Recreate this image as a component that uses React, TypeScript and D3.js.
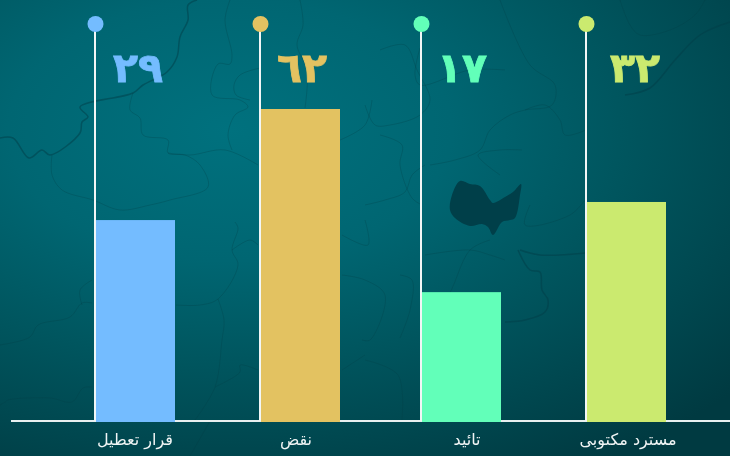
import React from "react";
import * as d3 from "d3";

const W = 730, H = 456;
const categories = ["قرار تعطیل", "نقض", "تائید", "مسترد مکتوبی"];
const valueLabels = ["٢٩", "٦٢", "١٧", "٣٢"];
// bar lengths as drawn in the picture (the picture's bars are not proportional to the labels)
const barLevels = [64.4, 100, 41.3, 70.2];
const colors = ["#74bcff", "#e3c261", "#62ffb9", "#cbea6f"];

type P = [number, number];
const mapThick: P[][] = [
  [[0,138],[13,138],[29,158],[42,150],[50,155],[80,133],[82,122],[88,117],[80,107],[133,93],[143,85],[167,72],[177,57],[180,37],[188,20],[188,5],[197,0]],
  [[625,95],[650,88],[675,60],[700,35],[730,22]],
  [[520,250],[540,255],[586,253]],
  [[518,250],[530,270],[540,272],[542,290],[548,300],[545,312],[525,320],[505,322]],
];
const mapThin: P[][] = [
  [[52,155],[52,175],[62,190],[93,200],[120,210],[150,205],[170,200],[208,187],[200,165],[185,155],[168,153],[168,140],[143,135],[140,118],[130,110],[133,93]],
  [[168,153],[190,155],[225,150],[258,165]],
  [[230,0],[225,20],[232,55],[230,64],[218,64],[212,95],[240,100],[248,107],[235,115],[228,135],[232,150]],
  [[260,68],[240,75],[234,85],[236,95],[250,100]],
  [[300,0],[303,25],[297,45],[307,70],[305,108]],
  [[340,140],[365,125],[372,100]],
  [[380,50],[405,45],[417,70],[430,100],[420,115],[390,125],[375,125],[365,105]],
  [[420,48],[415,75],[420,85],[470,70],[505,70]],
  [[500,0],[530,65],[555,85],[552,105],[525,110],[510,115],[490,130],[480,150],[455,160],[430,165]],
  [[525,110],[545,105],[560,120],[565,135],[586,130]],
  [[522,150],[500,150],[478,155],[500,175]],
  [[380,135],[402,145],[400,165],[412,198],[422,205]],
  [[365,205],[385,200],[405,192],[412,175],[425,165]],
  [[530,205],[525,225],[570,215],[585,200]],
  [[490,240],[470,250],[445,300],[425,310]],
  [[425,255],[470,250],[490,255],[505,260]],
  [[620,0],[630,25],[640,35],[670,30],[695,15],[705,0]],
  [[0,345],[30,337],[38,325],[70,317],[82,303],[92,303]],
  [[92,280],[80,290],[82,305]],
  [[0,405],[5,402],[8,400],[50,398],[72,402],[83,388],[92,387]],
  [[176,305],[200,305],[218,299],[238,265],[232,250],[238,228],[235,222]],
  [[218,299],[224,320],[222,340],[215,387],[195,420]],
  [[215,387],[240,372],[240,365],[258,370]],
  [[232,250],[250,240],[258,245]],
  [[342,235],[368,245],[365,220]],
  [[342,275],[365,280],[385,295],[370,340],[362,340]],
  [[400,275],[412,280],[410,310],[400,338]],
  [[365,360],[398,375],[402,420]],
  [[342,370],[365,355]],
  [[210,421],[190,456]],
];
const blob: P[] = [[460,181],[470,184],[480,186],[490,200],[493,203],[505,197],[513,192],[521,184],[520,195],[515,218],[510,220],[502,222],[493,235],[488,227],[482,224],[470,226],[455,218],[450,210],[452,195]];

const bodyFont = "'DejaVu Sans', sans-serif";

export default function App() {
  const baseY = 421, topY = 109;
  const y = d3.scaleLinear().domain([0, 100]).range([baseY, topY]);
  const x = d3.scaleOrdinal<string, number>().domain(categories).range([95, 260, 421, 586]);
  const digitX = d3.scaleOrdinal<string, number>().domain(categories).range([138, 302, 462, 635]);
  const labelX = d3.scaleOrdinal<string, number>().domain(categories).range([135, 296, 467, 628]);
  const barW = 79;
  const line = d3.line<P>().curve(d3.curveCatmullRom.alpha(0.5));
  const closed = d3.line<P>().curve(d3.curveCatmullRomClosed.alpha(0.5));
  return (
    <svg width={W} height={H} viewBox={`0 0 ${W} ${H}`} style={{ position: "fixed", left: 0, top: 0, display: "block" }}>
      <defs>
        <radialGradient id="bg" gradientUnits="userSpaceOnUse" cx={0} cy={0} r={1} gradientTransform="translate(230 130) scale(672 396)">
          <stop offset="0" stopColor="#00717e" />
          <stop offset="0.33" stopColor="#006672" />
          <stop offset="0.58" stopColor="#00565f" />
          <stop offset="0.79" stopColor="#004850" />
          <stop offset="1" stopColor="#003a41" />
        </radialGradient>
      </defs>
      <rect width={W} height={H} fill="url(#bg)" />
      <g fill="none" stroke="#003d47">
        {mapThin.map((d, i) => <path key={i} d={line(d) ?? ""} strokeWidth={0.8} strokeOpacity={0.35} />)}
        {mapThick.map((d, i) => <path key={i} d={line(d) ?? ""} strokeWidth={1.5} strokeOpacity={0.5} />)}
      </g>
      <path d={closed(blob) ?? ""} fill="#003f49" />
      <line x1={11} x2={W} y1={baseY} y2={baseY} stroke="#e8f0f0" strokeWidth={2} />
      {categories.map((c, i) => {
        const cx = x(c);
        return (
          <g key={c}>
            <rect x={cx + 1} y={y(barLevels[i])} width={barW} height={baseY + 1 - y(barLevels[i])} fill={colors[i]} />
            <line x1={cx} x2={cx} y1={24} y2={baseY} stroke="#f2f6f6" strokeWidth={2} />
            <circle cx={cx + 0.5} cy={24} r={8} fill={colors[i]} />
            <text x={digitX(c)} y={82} textAnchor="middle" direction="ltr" unicodeBidi="bidi-override" fontFamily={bodyFont} fontWeight={700} fontSize={41} letterSpacing={3} stroke={colors[i]} strokeWidth={0.8} fill={colors[i]}>{valueLabels[i]}</text>
            <text x={labelX(c)} y={445} textAnchor="middle" direction="rtl" fontFamily={bodyFont} fontWeight={400} fontSize={16} fill="#f0f5f5">{c}</text>
          </g>
        );
      })}
    </svg>
  );
}
